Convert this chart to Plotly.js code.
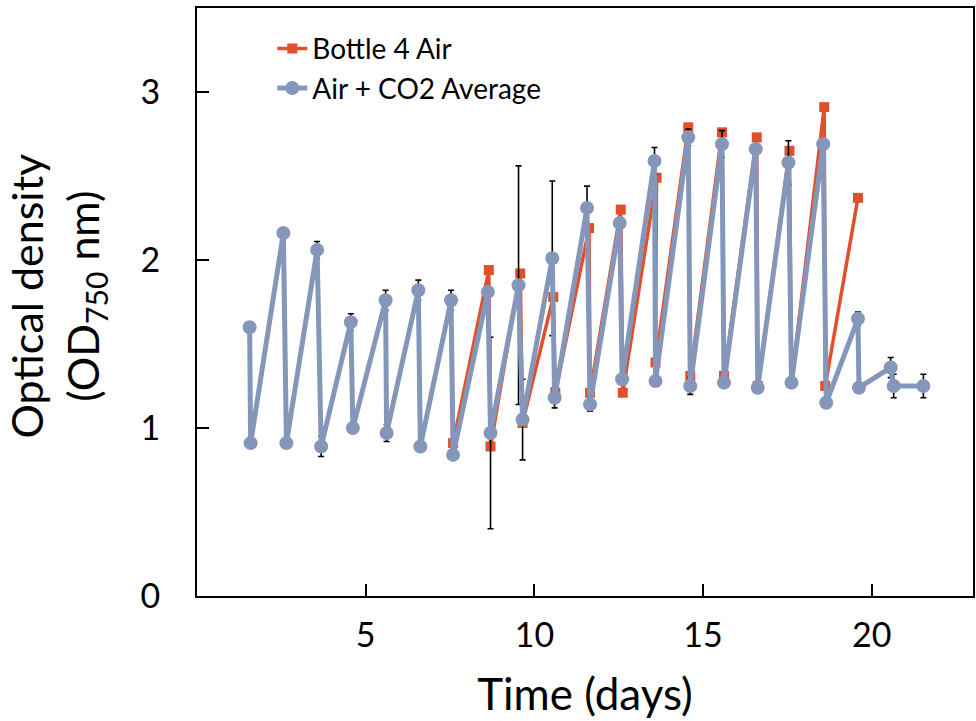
<!DOCTYPE html>
<html>
<head>
<meta charset="utf-8">
<script src="https://cdn.plot.ly/plotly-3.0.1.min.js"></script>
<style>html,body{margin:0;padding:0;background:#fff;}#chart{width:976px;height:721px;}</style>
</head>
<body>
<div id="chart"></div>
<script>
// Bottle 4 Air
const redX = [7.59, 8.65, 8.70, 9.58, 9.65, 10.56, 10.62, 11.62, 11.65, 12.56, 12.62, 13.62, 13.59, 14.56, 14.62, 15.56, 15.62, 16.59, 16.62, 17.56, 17.62, 18.59, 18.62, 19.59];
const redY = [0.91, 1.94, 0.89, 1.92, 1.03, 1.78, 1.21, 2.19, 1.21, 2.30, 1.21, 2.49, 1.39, 2.79, 1.31, 2.76, 1.31, 2.73, 1.25, 2.65, 1.27, 2.91, 1.25, 2.37];

// Air + CO2 Average
const blueX = [1.56, 1.59, 2.56, 2.65, 3.56, 3.68, 4.56, 4.62, 5.59, 5.62, 6.56, 6.62, 7.53, 7.59, 8.62, 8.70, 9.53, 9.65, 10.53, 10.60, 11.56, 11.65, 12.53, 12.60, 13.56, 13.59, 14.56, 14.62, 15.56, 15.62, 16.56, 16.62, 17.53, 17.62, 18.56, 18.65, 19.59, 19.62, 20.56, 20.65, 21.53];
const blueY = [1.60, 0.91, 2.16, 0.91, 2.06, 0.89, 1.63, 1.00, 1.76, 0.97, 1.82, 0.89, 1.76, 0.84, 1.81, 0.97, 1.85, 1.05, 2.01, 1.18, 2.31, 1.14, 2.22, 1.29, 2.59, 1.28, 2.73, 1.25, 2.69, 1.27, 2.66, 1.24, 2.58, 1.27, 2.69, 1.15, 1.65, 1.24, 1.36, 1.25, 1.25];
const blueErr = [0.03, 0.03, 0.03, 0.03, 0.05, 0.06, 0.05, 0.03, 0.06, 0.05, 0.06, 0.03, 0.06, 0.03, 0.03, 0.57, 0.71, 0.24, 0.46, 0.06, 0.13, 0.04, 0.03, 0.03, 0.08, 0.03, 0.05, 0.05, 0.08, 0.03, 0.03, 0.03, 0.13, 0.03, 0.03, 0.03, 0.04, 0.03, 0.06, 0.07, 0.07];

const xTicks = [5, 10, 15, 20];
const yTicks = [0, 1, 2, 3];

const FONT = 'Lato, "Open Sans", sans-serif';

const traces = [
  {
    x: redX, y: redY, name: 'Bottle 4 Air', type: 'scatter', mode: 'lines+markers',
    line: {color: '#E2502B', width: 3.5},
    marker: {symbol: 'square', size: 10, color: '#E2502B'}
  },
  {
    x: blueX, y: blueY, name: 'Air + CO2 Average', type: 'scatter', mode: 'lines+markers',
    line: {color: '#8497BA', width: 5},
    marker: {symbol: 'circle', size: 14, color: '#8497BA'},
    error_y: {type: 'data', array: blueErr, visible: true, color: '#000', thickness: 1.6, width: 3}
  }
];

const layout = {
  width: 976, height: 721,
  margin: {l: 197, r: 3, t: 8, b: 125},
  paper_bgcolor: '#fff', plot_bgcolor: '#fff',
  font: {family: FONT, color: '#000'},
  showlegend: true,
  legend: {
    x: 0.097, y: 0.973, xanchor: 'left', yanchor: 'top',
    bgcolor: 'rgba(0,0,0,0)', font: {size: 28, family: FONT, color: '#000'},
    itemwidth: 30, tracegroupgap: 0
  },
  xaxis: {
    range: [0, 23], tickvals: xTicks, ticktext: xTicks.map(String),
    ticks: 'inside', ticklen: 12, tickwidth: 2, tickcolor: '#000',
    showline: true, linecolor: '#000', linewidth: 2, mirror: true,
    showgrid: false, zeroline: false,
    tickfont: {size: 34, family: FONT, color: '#000'},
    ticklabelstandoff: 8,
    title: {text: 'Time (days)', font: {size: 44, family: FONT, color: '#000'}, standoff: 26}
  },
  yaxis: {
    range: [0, 3.5], tickvals: yTicks, ticktext: yTicks.map(String),
    ticks: 'inside', ticklen: 12, tickwidth: 2, tickcolor: '#000',
    showline: true, linecolor: '#000', linewidth: 2, mirror: true,
    showgrid: false, zeroline: false,
    tickfont: {size: 34, family: FONT, color: '#000'},
    ticklabelstandoff: 28
  },
  annotations: [{
    text: 'Optical density<br>(OD<sub>750</sub> nm)',
    xref: 'paper', yref: 'paper', x: -0.18, y: 0.51,
    xanchor: 'center', yanchor: 'middle', textangle: -90, showarrow: false,
    font: {size: 43, family: FONT, color: '#000'}
  }]
};

Plotly.newPlot('chart', traces, layout, {displayModeBar: false, staticPlot: true});
</script>
</body>
</html>
